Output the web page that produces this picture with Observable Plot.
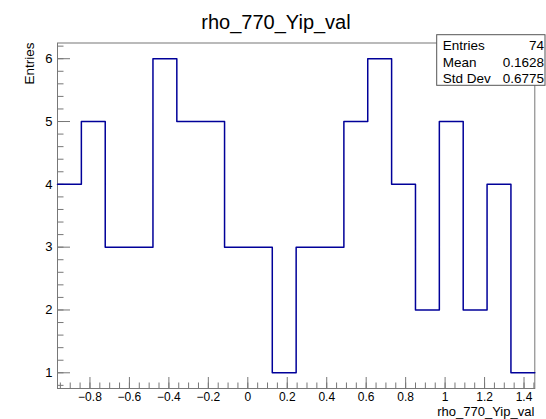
<!DOCTYPE html>
<html><head><meta charset="utf-8">
<script src="https://cdn.jsdelivr.net/npm/d3@7"></script>
<script src="https://cdn.jsdelivr.net/npm/@observablehq/plot@0.6"></script>
<style>
body{margin:0;background:#fff;}
#chart svg{font-family:"Liberation Sans",Arial,Helvetica,sans-serif;}
</style>
</head><body><div id="chart"></div>
<script>
// ---- data ----
const histTitle = "rho_770_Yip_val";
const xTitle = "rho_770_Yip_val";
const yTitle = "Entries";
const xMin = -0.9645, xMax = 1.4546;
const counts = [4,5,3,3,6,5,5,3,3,1,3,3,5,6,4,2,5,2,4,1];
const xTicks = [-0.8,-0.6,-0.4,-0.2,0,0.2,0.4,0.6,0.8,1,1.2,1.4];
const yTicks = [1,2,3,4,5,6];
const statsLabels = ["Entries","Mean","Std Dev"];
const statsValues = ["74","0.1628","0.6775"];

// ---- derived structure ----
const binW = (xMax - xMin) / counts.length;
const steps = counts.map((c, i) => ({x: xMin + i * binW, y: c}));
steps.push({x: xMax, y: counts[counts.length - 1]});
const xMinor = d3.range(-19, 30).map(k => +(k * 0.05).toFixed(2)).filter(v => v > xMin && v < xMax);
const yMinor = d3.range(4, 32).map(k => +(k * 0.2).toFixed(1)).filter(v => v > 0.75 && v < 6.25);
const fmt = d => (d < 0 ? "\u2212" : "") + String(Math.abs(d));

const W = 546, H = 419;
const mL = 57, mR = 11.7, mT = 42.5, mB = 31;
const axisColor = "#777";
const font = '"Liberation Sans",Arial,Helvetica,sans-serif';

const plot = Plot.plot({
  width: W, height: H,
  marginLeft: mL, marginRight: mR, marginTop: mT, marginBottom: mB,
  x: {domain: [xMin, xMax]},
  y: {domain: [0.75, 6.25]},
  style: {fontFamily: font, fontSize: "13px", background: "#fff", color: "#000"},
  marks: [
    Plot.axisX(xMinor, {tickSize: -5.5, tickFormat: () => "", stroke: axisColor, label: null}),
    Plot.axisX(xTicks, {tickSize: -11, tickFormat: () => "", stroke: axisColor, label: null}),
    Plot.axisX(xTicks, {tickSize: 0, tickPadding: 4, fontSize: 12, fill: "#000", tickFormat: fmt, label: null}),
    Plot.axisY(yMinor, {tickSize: -6.5, tickFormat: () => "", stroke: axisColor, label: null}),
    Plot.axisY(yTicks, {tickSize: -13, tickFormat: () => "", stroke: axisColor, label: null}),
    Plot.axisY(yTicks, {tickSize: 0, tickPadding: 5, fontSize: 13, fill: "#000", tickFormat: fmt, label: null}),
    Plot.frame({stroke: axisColor}),
    Plot.line(steps, {x: "x", y: "y", curve: "step-after", stroke: "#000099", strokeWidth: 1.5})
  ]
});

const svg = d3.select(plot);
// title
svg.append("text").attr("x", 276).attr("y", 29).attr("text-anchor", "middle")
  .attr("font-size", 20).attr("font-family", font).attr("fill", "#000").text(histTitle);
// x title
svg.append("text").attr("x", W - mR).attr("y", 415.5).attr("text-anchor", "end")
  .attr("font-size", 13).attr("font-family", font).attr("fill", "#000").text(xTitle);
// y title
svg.append("text").attr("transform", `translate(34,${mT}) rotate(-90)`).attr("text-anchor", "end")
  .attr("font-size", 13.5).attr("font-family", font).attr("fill", "#000").text(yTitle);
// stats box
const box = svg.append("g");
box.append("rect").attr("x", 436.7).attr("y", 34.7).attr("width", 108.3).attr("height", 50.6)
  .attr("fill", "#fff").attr("stroke", "#555").attr("stroke-width", 1);
const baselines = [50, 66.5, 83];
statsLabels.forEach((t, i) => {
  box.append("text").attr("x", 442.7).attr("y", baselines[i]).attr("font-size", 13.5)
    .attr("text-anchor", "start").attr("font-family", font).attr("fill", "#000").text(t);
  box.append("text").attr("x", 544).attr("y", baselines[i]).attr("font-size", 13.5)
    .attr("text-anchor", "end").attr("font-family", font).attr("fill", "#000").text(statsValues[i]);
});

document.getElementById("chart").appendChild(plot);
</script>
</body></html>
